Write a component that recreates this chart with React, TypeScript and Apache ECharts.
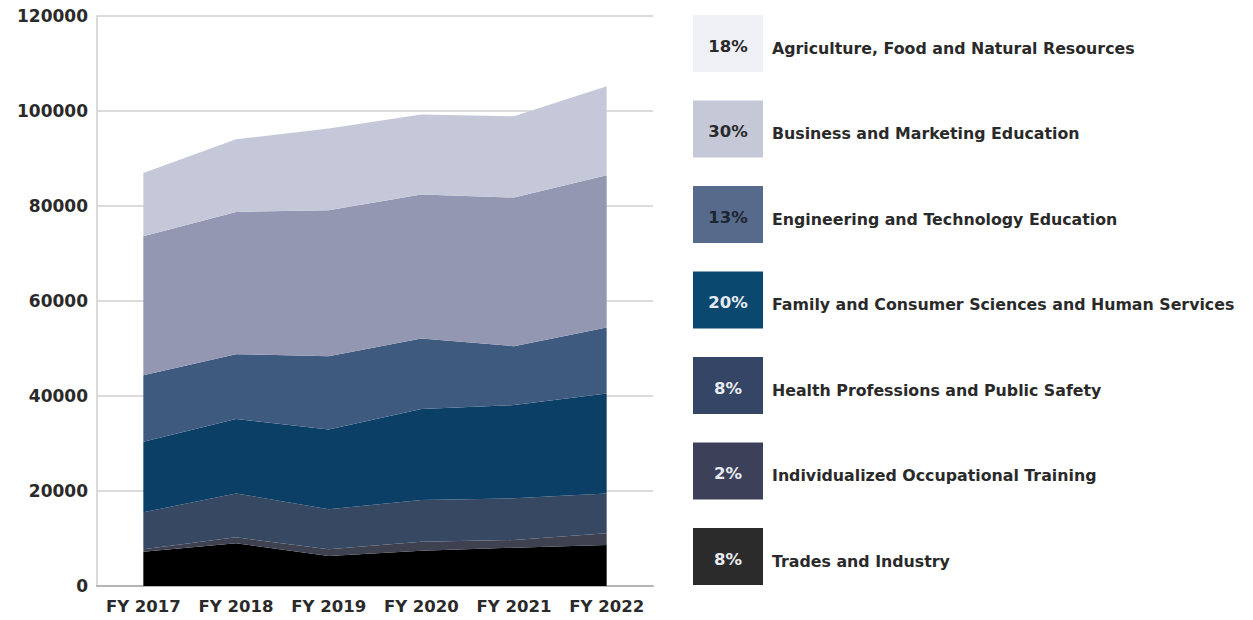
import React, { useEffect, useRef } from "react";
import * as echarts from "echarts";

const years = ["FY 2017", "FY 2018", "FY 2019", "FY 2020", "FY 2021", "FY 2022"];

// stacked bottom -> top
const trades = [7220, 8980, 6310, 7430, 8060, 8630];
const individualized = [500, 1270, 1410, 1890, 1620, 2460];
const health = [7790, 9250, 8420, 8770, 8770, 8410];
const family = [14850, 15640, 16830, 19150, 19630, 21040];
const engineering = [14030, 13670, 15420, 14880, 12420, 13890];
const business = [29250, 29950, 30720, 30290, 31280, 32040];
const agriculture = [13320, 15290, 17190, 16840, 17110, 18730];

const yTicks = [0, 20000, 40000, 60000, 80000, 100000, 120000];

// legend (top -> bottom)
const legendNames = [
  "Agriculture, Food and Natural Resources",
  "Business and Marketing Education",
  "Engineering and Technology Education",
  "Family and Consumer Sciences and Human Services",
  "Health Professions and Public Safety",
  "Individualized Occupational Training",
  "Trades and Industry",
];
const legendPcts = ["18%", "30%", "13%", "20%", "8%", "2%", "8%"];
const legendColors = ["#eff0f5", "#c5c8d7", "#566b8b", "#0b4870", "#344566", "#3c4159", "#2b2b2b"];
const legendTextColors = ["#2a2a2a", "#2a2a2a", "#1e2430", "#e8eaf0", "#e8eaf0", "#e8eaf0", "#e8eaf0"];

const seriesDefs = [
  { name: "Trades and Industry", data: trades, color: "#000000" },
  { name: "Individualized Occupational Training", data: individualized, color: "#3d4150" },
  { name: "Health Professions and Public Safety", data: health, color: "#374862" },
  { name: "Family and Consumer Sciences and Human Services", data: family, color: "#0b3f66" },
  { name: "Engineering and Technology Education", data: engineering, color: "#3f5a7f" },
  { name: "Business and Marketing Education", data: business, color: "#9397b1" },
  { name: "Agriculture, Food and Natural Resources", data: agriculture, color: "#c5c8d8" },
];

const FONT = "'DejaVu Sans', sans-serif";

export default function App() {
  const ref = useRef<HTMLDivElement>(null);
  useEffect(() => {
    if (!ref.current) return;
    const chart = echarts.init(ref.current, null, { renderer: "svg" });
    const legendGraphics: any[] = [];
    legendNames.forEach((name, i) => {
      const y = 15 + i * 85.5;
      legendGraphics.push({
        type: "rect",
        shape: { x: 693, y, width: 70, height: 57 },
        style: { fill: legendColors[i] },
      });
      legendGraphics.push({
        type: "text",
        x: 728,
        y: y + 31,
        style: {
          text: legendPcts[i],
          fill: legendTextColors[i],
          font: `bold 16.5px ${FONT}`,
          align: "center",
          verticalAlign: "middle",
        },
      });
      legendGraphics.push({
        type: "text",
        x: 772,
        y: y + 33,
        style: {
          text: name,
          fill: "#2a2a2a",
          font: `bold 15.8px ${FONT}`,
          align: "left",
          verticalAlign: "middle",
        },
      });
    });
    chart.setOption({
      animation: false,
      grid: { left: 97, right: 600, top: 16, bottom: 34, containLabel: false },
      xAxis: {
        type: "category",
        data: years,
        boundaryGap: true,
        axisLine: { show: true, lineStyle: { color: "#b5b5b5", width: 2 } },
        axisTick: { show: false },
        axisLabel: {
          color: "#2a2a2a",
          fontFamily: FONT,
          fontWeight: "bold",
          fontSize: 16.5,
          margin: 12,
          interval: 0,
        },
        splitLine: { show: false },
      },
      yAxis: {
        type: "value",
        min: yTicks[0],
        max: yTicks[yTicks.length - 1],
        interval: 20000,
        axisLine: { show: true, lineStyle: { color: "#cfcfcf", width: 1.5 } },
        axisTick: { show: false },
        axisLabel: {
          color: "#2a2a2a",
          fontFamily: FONT,
          fontWeight: "bold",
          fontSize: 17,
          margin: 9,
          formatter: (v: number) => String(v),
        },
        splitLine: { show: true, lineStyle: { color: "#cfcfcf", width: 1.5 } },
      },
      series: seriesDefs.map((s) => ({
        name: s.name,
        type: "line",
        stack: "total",
        data: s.data,
        symbol: "none",
        showSymbol: false,
        lineStyle: { width: 0 },
        itemStyle: { color: s.color },
        areaStyle: { color: s.color, opacity: 1 },
        z: 3,
      })),
      graphic: legendGraphics,
    });
    return () => chart.dispose();
  }, []);
  return (
    <div
      ref={ref}
      style={{ position: "fixed", left: 0, top: 0, width: 1253, height: 620, background: "#fff" }}
    />
  );
}
